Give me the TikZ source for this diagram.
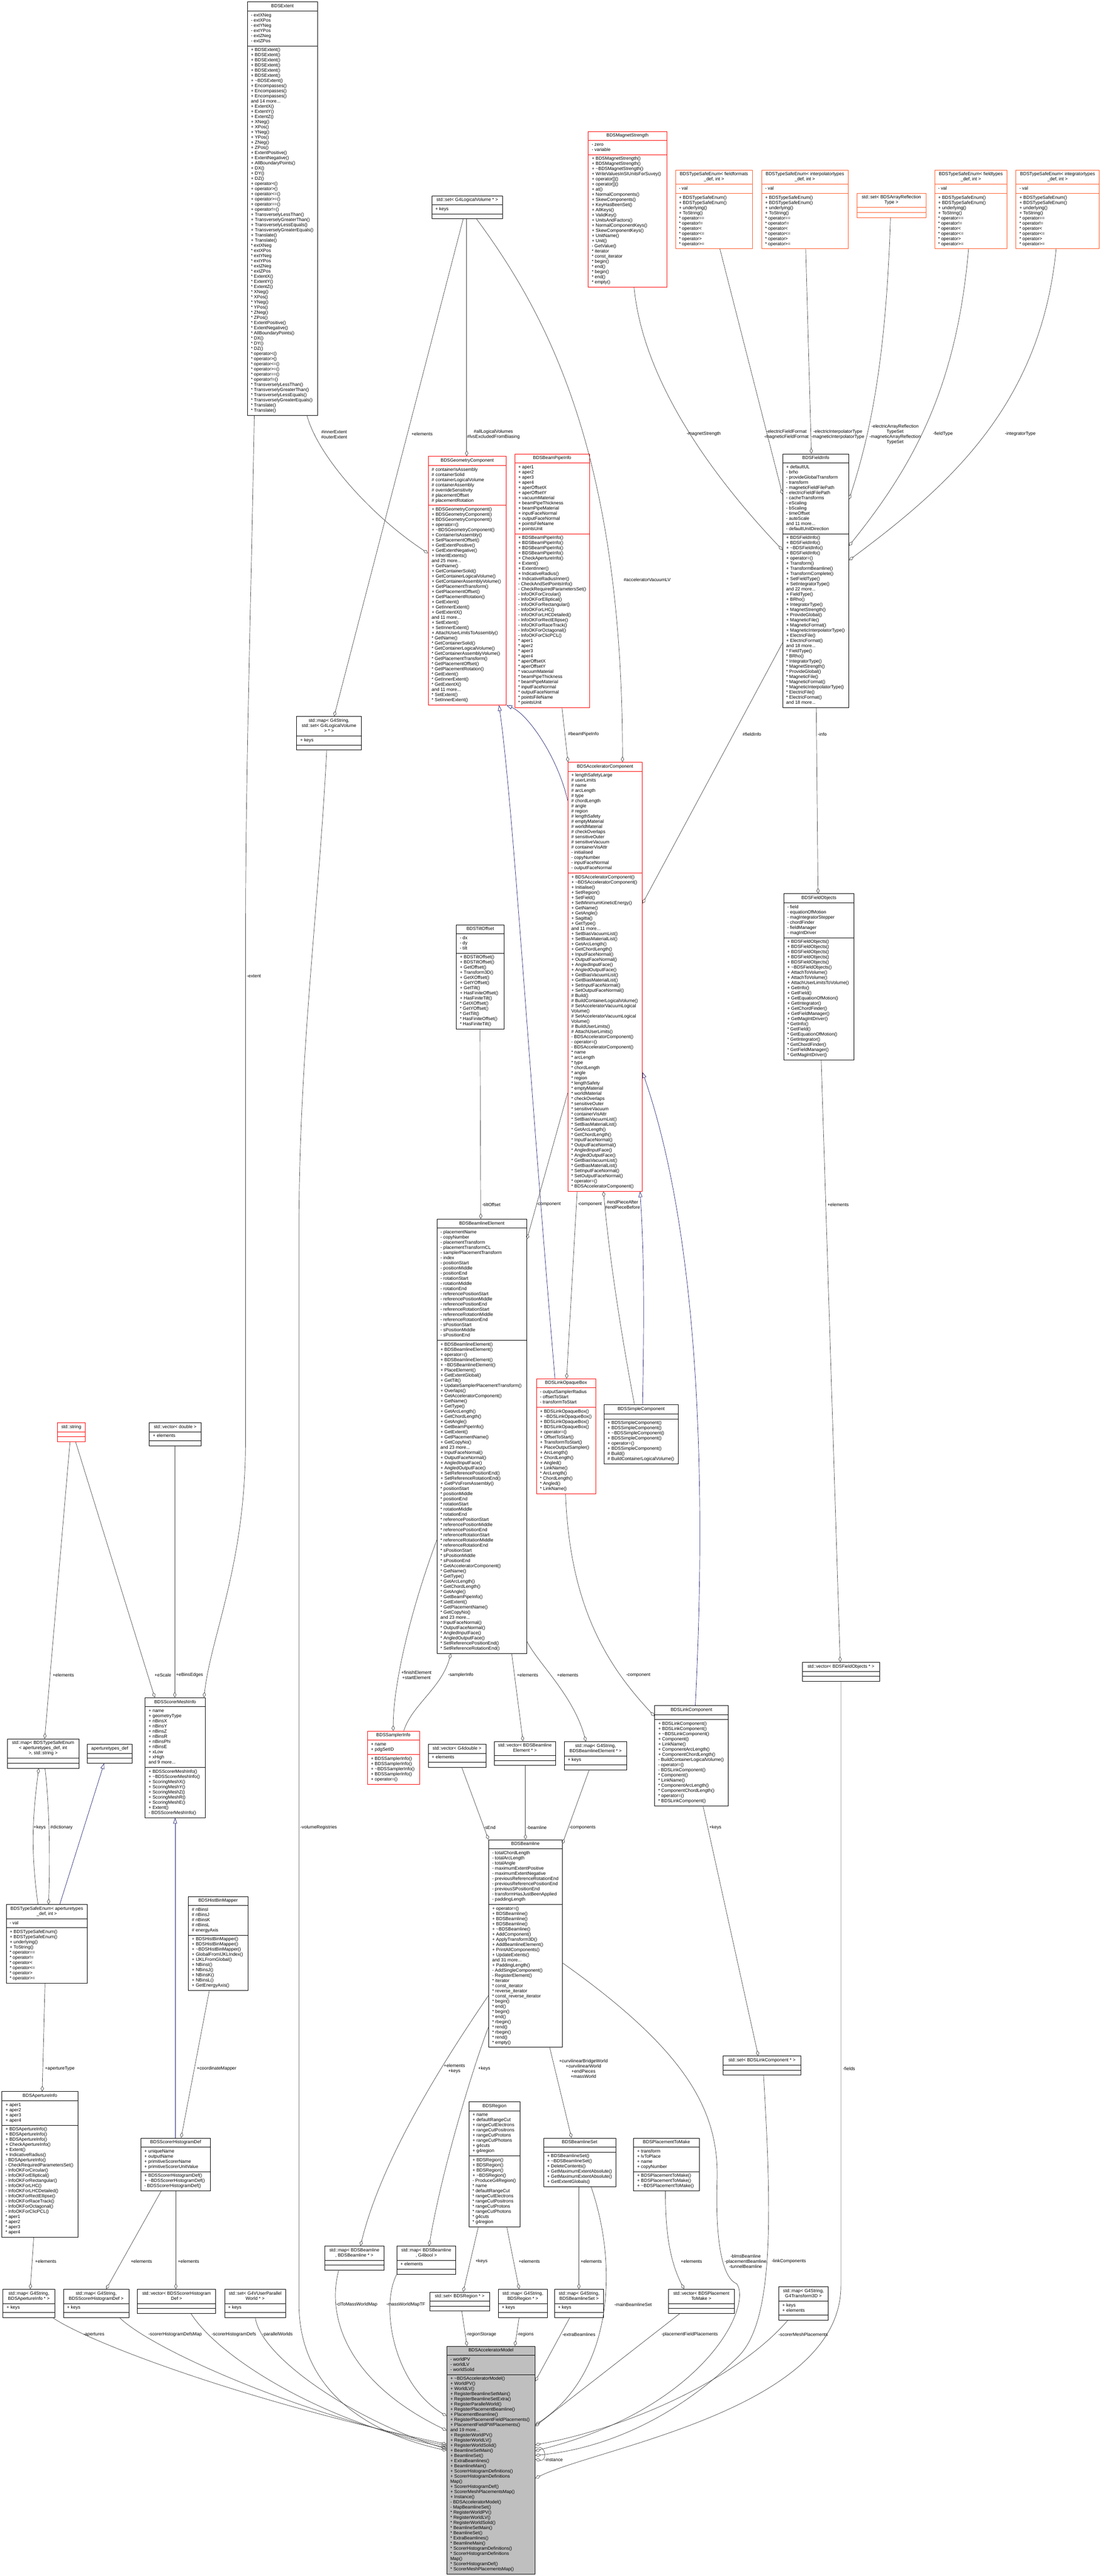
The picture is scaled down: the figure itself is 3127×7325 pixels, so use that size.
\documentclass[tikz,border=0pt]{standalone}
\usepackage{fontspec}
\setmainfont{Liberation Sans}
\usetikzlibrary{shapes.multipart,arrows.meta}

\definecolor{doxred}{RGB}{255,0,0}
\definecolor{doxorange}{RGB}{255,90,40}
\definecolor{doxgrey}{RGB}{191,191,191}
\definecolor{doxedge}{RGB}{64,64,64}
\definecolor{doxblue}{RGB}{25,25,112}

\newcommand{\clsfont}{\fontsize{13}{14.65}\selectfont}
\newcommand{\tld}{\textasciitilde}
\newcommand{\cls}[3]{\begin{tabular}{@{}c@{}}#1\end{tabular}\nodepart{two}\begin{tabular}{@{}l@{}}#2\end{tabular}\nodepart{three}\begin{tabular}{@{}l@{}}#3\end{tabular}}
\newcommand{\tsemeth}{+ BDSTypeSafeEnum()\\+ BDSTypeSafeEnum()\\+ underlying()\\+ ToString()\\{}* operator==\\{}* operator!=\\{}* operator<\\{}* operator<=\\{}* operator>\\{}* operator>=}

\begin{document}
\begin{tikzpicture}[x=1pt, y=-1pt,
    cls/.style={rectangle split, rectangle split parts=3, rectangle split part align={center,left,left},
      draw=black, line width=1.1pt, fill=white, anchor=north west, inner xsep=10pt, inner ysep=5pt, font=\clsfont},
    clsred/.style={cls, draw=doxred},
    clsorange/.style={cls, draw=doxorange},
    clsgrey/.style={cls, fill=doxgrey},
    assoc/.style={draw=doxedge, line width=1pt, -{Diamond[open, length=16pt, width=9pt]}},
    inherits/.style={draw=doxblue, line width=1pt, -{Triangle[open, length=16pt, width=11pt]}},
    elabel/.style={font=\clsfont, inner sep=0pt, align=center}]

  \fill[white] (0,0) rectangle (3127,7325);
  \useasboundingbox (0,0) rectangle (3127,7325);

  % Top row
  \node[cls, minimum width=199pt] (extent) at (703,5) {\cls{BDSExtent}
    {- extXNeg\\- extXPos\\- extYNeg\\- extYPos\\- extZNeg\\- extZPos}
    {+ BDSExtent()\\+ BDSExtent()\\+ BDSExtent()\\+ BDSExtent()\\+ BDSExtent()\\+ BDSExtent()\\+ \tld BDSExtent()\\+ Encompasses()\\+ Encompasses()\\+ Encompasses()\\and 14 more...\\+ ExtentX()\\+ ExtentY()\\+ ExtentZ()\\+ XNeg()\\+ XPos()\\+ YNeg()\\+ YPos()\\+ ZNeg()\\+ ZPos()\\+ ExtentPositive()\\+ ExtentNegative()\\+ AllBoundaryPoints()\\+ DX()\\+ DY()\\+ DZ()\\+ operator<()\\+ operator>()\\+ operator<=()\\+ operator>=()\\+ operator==()\\+ operator!=()\\+ TransverselyLessThan()\\+ TransverselyGreaterThan()\\+ TransverselyLessEquals()\\+ TransverselyGreaterEquals()\\+ Translate()\\+ Translate()\\{}* extXNeg\\{}* extXPos\\{}* extYNeg\\{}* extYPos\\{}* extZNeg\\{}* extZPos\\{}* ExtentX()\\{}* ExtentY()\\{}* ExtentZ()\\{}* XNeg()\\{}* XPos()\\{}* YNeg()\\{}* YPos()\\{}* ZNeg()\\{}* ZPos()\\{}* ExtentPositive()\\{}* ExtentNegative()\\{}* AllBoundaryPoints()\\{}* DX()\\{}* DY()\\{}* DZ()\\{}* operator<()\\{}* operator>()\\{}* operator<=()\\{}* operator>=()\\{}* operator==()\\{}* operator!=()\\{}* TransverselyLessThan()\\{}* TransverselyGreaterThan()\\{}* TransverselyLessEquals()\\{}* TransverselyGreaterEquals()\\{}* Translate()\\{}* Translate()}};
  \node[cls, minimum width=202pt] (lvSet) at (1227,556) {\cls{std::set< G4LogicalVolume * >}{+ keys}{}};
  \node[clsred, minimum width=223pt] (magstr) at (1672,373) {\cls{BDSMagnetStrength}
    {- zero\\- variable}
    {+ BDSMagnetStrength()\\+ BDSMagnetStrength()\\+ \tld BDSMagnetStrength()\\+ WriteValuesInSIUnitsForSuvey()\\+ operator[]()\\+ operator[]()\\+ at()\\+ NormalComponents()\\+ SkewComponents()\\+ KeyHasBeenSet()\\+ AllKeys()\\+ ValidKey()\\+ UnitsAndFactors()\\+ NormalComponentKeys()\\+ SkewComponentKeys()\\+ UnitName()\\+ Unit()\\- GetValue()\\{}* iterator\\{}* const\_iterator\\{}* begin()\\{}* end()\\{}* begin()\\{}* end()\\{}* empty()}};
  \node[clsorange, minimum width=219pt] (tseFormats) at (1920,483) {\cls{BDSTypeSafeEnum< fieldformats\\\_def, int >}{- val}{\tsemeth}};
  \node[clsorange, minimum width=246pt] (tseInterp) at (2165,483) {\cls{BDSTypeSafeEnum< interpolatortypes\\\_def, int >}{- val}{\tsemeth}};
  \node[clsorange, minimum width=196pt] (reflSet) at (2436,549) {\cls{std::set< BDSArrayReflection\\Type >}{}{}};
  \node[clsorange, minimum width=206pt] (tseFieldTypes) at (2657,483) {\cls{BDSTypeSafeEnum< fieldtypes\\\_def, int >}{- val}{\tsemeth}};
  \node[clsorange, minimum width=237pt] (tseIntegrators) at (2888,483) {\cls{BDSTypeSafeEnum< integratortypes\\\_def, int >}{- val}{\tsemeth}};

  % Geometry and fields
  \node[clsred, minimum width=222pt] (geomComp) at (1217,1297) {\cls{BDSGeometryComponent}
    {\# containerIsAssembly\\\# containerSolid\\\# containerLogicalVolume\\\# containerAssembly\\\# overrideSensitivity\\\# placementOffset\\\# placementRotation}
    {+ BDSGeometryComponent()\\+ BDSGeometryComponent()\\+ BDSGeometryComponent()\\+ operator=()\\+ \tld BDSGeometryComponent()\\+ ContainerIsAssembly()\\+ SetPlacementOffset()\\+ GetExtentPositive()\\+ GetExtentNegative()\\+ InheritExtents()\\and 25 more...\\+ GetName()\\+ GetContainerSolid()\\+ GetContainerLogicalVolume()\\+ GetContainerAssemblyVolume()\\+ GetPlacementTransform()\\+ GetPlacementOffset()\\+ GetPlacementRotation()\\+ GetExtent()\\+ GetInnerExtent()\\+ GetExtentX()\\and 11 more...\\+ SetExtent()\\+ SetInnerExtent()\\+ AttachUserLimitsToAssembly()\\{}* GetName()\\{}* GetContainerSolid()\\{}* GetContainerLogicalVolume()\\{}* GetContainerAssemblyVolume()\\{}* GetPlacementTransform()\\{}* GetPlacementOffset()\\{}* GetPlacementRotation()\\{}* GetExtent()\\{}* GetInnerExtent()\\{}* GetExtentX()\\and 11 more...\\{}* SetExtent()\\{}* SetInnerExtent()}};
  \node[clsred, minimum width=212pt] (bpInfo) at (1463,1290) {\cls{BDSBeamPipeInfo}
    {+ aper1\\+ aper2\\+ aper3\\+ aper4\\+ aperOffsetX\\+ aperOffsetY\\+ vacuumMaterial\\+ beamPipeThickness\\+ beamPipeMaterial\\+ inputFaceNormal\\+ outputFaceNormal\\+ pointsFileName\\+ pointsUnit}
    {+ BDSBeamPipeInfo()\\+ BDSBeamPipeInfo()\\+ BDSBeamPipeInfo()\\+ BDSBeamPipeInfo()\\+ CheckApertureInfo()\\+ Extent()\\+ ExtentInner()\\+ IndicativeRadius()\\+ IndicativeRadiusInner()\\- CheckAndSetPointsInfo()\\- CheckRequiredParametersSet()\\- InfoOKForCircular()\\- InfoOKForElliptical()\\- InfoOKForRectangular()\\- InfoOKForLHC()\\- InfoOKForLHCDetailed()\\- InfoOKForRectEllipse()\\- InfoOKForRaceTrack()\\- InfoOKForOctagonal()\\- InfoOKForClicPCL()\\{}* aper1\\{}* aper2\\{}* aper3\\{}* aper4\\{}* aperOffsetX\\{}* aperOffsetY\\{}* vacuumMaterial\\{}* beamPipeThickness\\{}* beamPipeMaterial\\{}* inputFaceNormal\\{}* outputFaceNormal\\{}* pointsFileName\\{}* pointsUnit}};
  \node[cls, minimum width=188pt] (fieldInfo) at (2225,1290) {\cls{BDSFieldInfo}
    {+ defaultUL\\- brho\\- provideGlobalTransform\\- transform\\- magneticFieldFilePath\\- electricFieldFilePath\\- cacheTransforms\\- eScaling\\- bScaling\\- timeOffset\\- autoScale\\and 11 more...\\- defaultUnitDirection}
    {+ BDSFieldInfo()\\+ BDSFieldInfo()\\+ \tld BDSFieldInfo()\\+ BDSFieldInfo()\\+ operator=()\\+ Transform()\\+ TransformBeamline()\\+ TransformComplete()\\+ SetFieldType()\\+ SetIntegratorType()\\and 22 more...\\+ FieldType()\\+ BRho()\\+ IntegratorType()\\+ MagnetStrength()\\+ ProvideGlobal()\\+ MagneticFile()\\+ MagneticFormat()\\+ MagneticInterpolatorType()\\+ ElectricFile()\\+ ElectricFormat()\\and 18 more...\\{}* FieldType()\\{}* BRho()\\{}* IntegratorType()\\{}* MagnetStrength()\\{}* ProvideGlobal()\\{}* MagneticFile()\\{}* MagneticFormat()\\{}* MagneticInterpolatorType()\\{}* ElectricFile()\\{}* ElectricFormat()\\and 18 more...}};
  \node[cls, minimum width=184pt] (lvMap) at (843,2037) {\cls{std::map< G4String,\\ std::set< G4LogicalVolume\\ * > * >}{+ keys}{}};
  \node[clsred, minimum width=212pt] (accComp) at (1614,2167) {\cls{BDSAcceleratorComponent}
    {+ lengthSafetyLarge\\\# userLimits\\\# name\\\# arcLength\\\# type\\\# chordLength\\\# angle\\\# region\\\# lengthSafety\\\# emptyMaterial\\\# worldMaterial\\\# checkOverlaps\\\# sensitiveOuter\\\# sensitiveVacuum\\\# containerVisAttr\\- initialised\\- copyNumber\\- inputFaceNormal\\- outputFaceNormal}
    {+ BDSAcceleratorComponent()\\+ \tld BDSAcceleratorComponent()\\+ Initialise()\\+ SetRegion()\\+ SetField()\\+ SetMinimumKineticEnergy()\\+ GetName()\\+ GetAngle()\\+ Sagitta()\\+ GetType()\\and 11 more...\\+ SetBiasVacuumList()\\+ SetBiasMaterialList()\\+ GetArcLength()\\+ GetChordLength()\\+ InputFaceNormal()\\+ OutputFaceNormal()\\+ AngledInputFace()\\+ AngledOutputFace()\\+ GetBiasVacuumList()\\+ GetBiasMaterialList()\\+ SetInputFaceNormal()\\+ SetOutputFaceNormal()\\\# Build()\\\# BuildContainerLogicalVolume()\\\# SetAcceleratorVacuumLogical\\Volume()\\\# SetAcceleratorVacuumLogical\\Volume()\\\# BuildUserLimits()\\\# AttachUserLimits()\\- BDSAcceleratorComponent()\\- operator=()\\- BDSAcceleratorComponent()\\{}* name\\{}* arcLength\\{}* type\\{}* chordLength\\{}* angle\\{}* region\\{}* lengthSafety\\{}* emptyMaterial\\{}* worldMaterial\\{}* checkOverlaps\\{}* sensitiveOuter\\{}* sensitiveVacuum\\{}* containerVisAttr\\{}* SetBiasVacuumList()\\{}* SetBiasMaterialList()\\{}* GetArcLength()\\{}* GetChordLength()\\{}* InputFaceNormal()\\{}* OutputFaceNormal()\\{}* AngledInputFace()\\{}* AngledOutputFace()\\{}* GetBiasVacuumList()\\{}* GetBiasMaterialList()\\{}* SetInputFaceNormal()\\{}* SetOutputFaceNormal()\\{}* operator=()\\{}* BDSAcceleratorComponent()}};
  \node[cls, minimum width=200pt] (fieldObj) at (2228,2541) {\cls{BDSFieldObjects}
    {- field\\- equationOfMotion\\- magIntegratorStepper\\- chordFinder\\- fieldManager\\- magIntDriver}
    {+ BDSFieldObjects()\\+ BDSFieldObjects()\\+ BDSFieldObjects()\\+ BDSFieldObjects()\\+ BDSFieldObjects()\\+ \tld BDSFieldObjects()\\+ AttachToVolume()\\+ AttachToVolume()\\+ AttachUserLimitsToVolume()\\+ GetInfo()\\+ GetField()\\+ GetEquationOfMotion()\\+ GetIntegrator()\\+ GetChordFinder()\\+ GetFieldManager()\\+ GetMagIntDriver()\\{}* GetInfo()\\{}* GetField()\\{}* GetEquationOfMotion()\\{}* GetIntegrator()\\{}* GetChordFinder()\\{}* GetFieldManager()\\{}* GetMagIntDriver()}};
  \node[cls, minimum width=136pt] (tilt) at (1297,2629) {\cls{BDSTiltOffset}
    {- dx\\- dy\\- tilt}
    {+ BDSTiltOffset()\\+ BDSTiltOffset()\\+ GetOffset()\\+ Transform3D()\\+ GetXOffset()\\+ GetYOffset()\\+ GetTilt()\\+ HasFiniteOffset()\\+ HasFiniteTilt()\\{}* GetXOffset()\\{}* GetYOffset()\\{}* GetTilt()\\{}* HasFiniteOffset()\\{}* HasFiniteTilt()}};

  % Beamline elements
  \node[cls, minimum width=255pt] (blElement) at (1242,3466) {\cls{BDSBeamlineElement}
    {- placementName\\- copyNumber\\- placementTransform\\- placementTransformCL\\- samplerPlacementTransform\\- index\\- positionStart\\- positionMiddle\\- positionEnd\\- rotationStart\\- rotationMiddle\\- rotationEnd\\- referencePositionStart\\- referencePositionMiddle\\- referencePositionEnd\\- referenceRotationStart\\- referenceRotationMiddle\\- referenceRotationEnd\\- sPositionStart\\- sPositionMiddle\\- sPositionEnd}
    {+ BDSBeamlineElement()\\+ BDSBeamlineElement()\\+ operator=()\\+ BDSBeamlineElement()\\+ \tld BDSBeamlineElement()\\+ PlaceElement()\\+ GetExtentGlobal()\\+ GetTilt()\\+ UpdateSamplerPlacementTransform()\\+ Overlaps()\\+ GetAcceleratorComponent()\\+ GetName()\\+ GetType()\\+ GetArcLength()\\+ GetChordLength()\\+ GetAngle()\\+ GetBeamPipeInfo()\\+ GetExtent()\\+ GetPlacementName()\\+ GetCopyNo()\\and 23 more...\\+ InputFaceNormal()\\+ OutputFaceNormal()\\+ AngledInputFace()\\+ AngledOutputFace()\\+ SetReferencePositionEnd()\\+ SetReferenceRotationEnd()\\+ GetPVsFromAssembly()\\{}* positionStart\\{}* positionMiddle\\{}* positionEnd\\{}* rotationStart\\{}* rotationMiddle\\{}* rotationEnd\\{}* referencePositionStart\\{}* referencePositionMiddle\\{}* referencePositionEnd\\{}* referenceRotationStart\\{}* referenceRotationMiddle\\{}* referenceRotationEnd\\{}* sPositionStart\\{}* sPositionMiddle\\{}* sPositionEnd\\{}* GetAcceleratorComponent()\\{}* GetName()\\{}* GetType()\\{}* GetArcLength()\\{}* GetChordLength()\\{}* GetAngle()\\{}* GetBeamPipeInfo()\\{}* GetExtent()\\{}* GetPlacementName()\\{}* GetCopyNo()\\and 23 more...\\{}* InputFaceNormal()\\{}* OutputFaceNormal()\\{}* AngledInputFace()\\{}* AngledOutputFace()\\{}* SetReferencePositionEnd()\\{}* SetReferenceRotationEnd()}};
  \node[clsred, minimum width=168pt] (linkBox) at (1525,3920) {\cls{BDSLinkOpaqueBox}
    {- outputSamplerRadius\\- offsetToStart\\- transformToStart}
    {+ BDSLinkOpaqueBox()\\+ \tld BDSLinkOpaqueBox()\\+ BDSLinkOpaqueBox()\\+ BDSLinkOpaqueBox()\\+ operator=()\\+ OffsetToStart()\\+ TransformToStart()\\+ PlaceOutputSampler()\\+ ArcLength()\\+ ChordLength()\\+ Angled()\\+ LinkName()\\{}* ArcLength()\\{}* ChordLength()\\{}* Angled()\\{}* LinkName()}};
  \node[cls, minimum width=211pt] (simpleComp) at (1717,3994) {\cls{BDSSimpleComponent}{}
    {+ BDSSimpleComponent()\\+ BDSSimpleComponent()\\+ \tld BDSSimpleComponent()\\+ BDSSimpleComponent()\\+ operator=()\\+ BDSSimpleComponent()\\\# Build()\\\# BuildContainerLogicalVolume()}};
  \node[clsred, minimum width=80pt] (stdString) at (162,4045) {\cls{std::string}{}{}};
  \node[cls, minimum width=147pt] (dblVec) at (424,4045) {\cls{std::vector< double >}{+ elements}{}};
  \node[cls, minimum width=219pt] (fieldVec) at (2281,4726) {\cls{std::vector< BDSFieldObjects * >}{}{}};
  \node[cls, minimum width=171pt] (meshInfo) at (412,4827) {\cls{BDSScorerMeshInfo}
    {+ name\\+ geometryType\\+ nBinsX\\+ nBinsY\\+ nBinsZ\\+ nBinsR\\+ nBinsPhi\\+ nBinsE\\+ xLow\\+ xHigh\\and 9 more...}
    {+ BDSScorerMeshInfo()\\+ \tld BDSScorerMeshInfo()\\+ ScoringMeshX()\\+ ScoringMeshY()\\+ ScoringMeshZ()\\+ ScoringMeshR()\\+ ScoringMeshE()\\+ Extent()\\- BDSScorerMeshInfo()}};
  \node[cls, minimum width=209pt] (linkComp) at (1861,4849) {\cls{BDSLinkComponent}{}
    {+ BDSLinkComponent()\\+ BDSLinkComponent()\\+ \tld BDSLinkComponent()\\+ Component()\\+ LinkName()\\+ ComponentArcLength()\\+ ComponentChordLength()\\- BuildContainerLogicalVolume()\\- operator=()\\- BDSLinkComponent()\\{}* Component()\\{}* LinkName()\\{}* ComponentArcLength()\\{}* ComponentChordLength()\\{}* operator=()\\{}* BDSLinkComponent()}};
  \node[clsred, minimum width=148pt] (samplerInfo) at (1044,4922) {\cls{BDSSamplerInfo}
    {+ name\\+ pdgSetID}
    {+ BDSSamplerInfo()\\+ BDSSamplerInfo()\\+ \tld BDSSamplerInfo()\\+ BDSSamplerInfo()\\+ operator=()}};
  \node[cls, minimum width=164pt] (g4dblVec) at (1217,4959) {\cls{std::vector< G4double >}{+ elements}{}};
  \node[cls, minimum width=174pt] (elemVec) at (1405,4951) {\cls{std::vector< BDSBeamline\\Element * >}{}{}};
  \node[cls, minimum width=178pt] (elemMap) at (1604,4952) {\cls{std::map< G4String,\\ BDSBeamlineElement * >}{+ keys}{}};
  \node[cls, minimum width=204pt] (apMap) at (20,4944) {\cls{std::map< BDSTypeSafeEnum\\< aperturetypes\_def, int\\ >, std::string >}{}{}};
  \node[cls, minimum width=127pt] (apDef) at (248,4959) {\cls{aperturetypes\_def}{}{}};

  % Beamline and apertures
  \node[cls, minimum width=207pt] (blBeamline) at (1389,5231) {\cls{BDSBeamline}
    {- totalChordLength\\- totalArcLength\\- totalAngle\\- maximumExtentPositive\\- maximumExtentNegative\\- previousReferenceRotationEnd\\- previousReferencePositionEnd\\- previousSPositionEnd\\- transformHasJustBeenApplied\\- paddingLength}
    {+ operator=()\\+ BDSBeamline()\\+ BDSBeamline()\\+ BDSBeamline()\\+ \tld BDSBeamline()\\+ AddComponent()\\+ ApplyTransform3D()\\+ AddBeamlineElement()\\+ PrintAllComponents()\\+ UpdateExtents()\\and 31 more...\\+ PaddingLength()\\- AddSingleComponent()\\- RegisterElement()\\{}* iterator\\{}* const\_iterator\\{}* reverse\_iterator\\{}* const\_reverse\_iterator\\{}* begin()\\{}* end()\\{}* begin()\\{}* end()\\{}* rbegin()\\{}* rend()\\{}* rbegin()\\{}* rend()\\{}* empty()}};
  \node[cls, minimum width=231pt] (tseAperture) at (17,5415) {\cls{BDSTypeSafeEnum< aperturetypes\\\_def, int >}{- val}{\tsemeth}};
  \node[cls, minimum width=169pt] (binMapper) at (535,5392) {\cls{BDSHistBinMapper}
    {\# nBinsI\\\# nBinsJ\\\# nBinsK\\\# nBinsL\\\# energyAxis}
    {+ BDSHistBinMapper()\\+ BDSHistBinMapper()\\+ \tld BDSHistBinMapper()\\+ GlobalFromIJKLIndex()\\+ IJKLFromGlobal()\\+ NBinsI()\\+ NBinsJ()\\+ NBinsK()\\+ NBinsL()\\+ GetEnergyAxis()}};
  \node[cls, minimum width=220pt] (linkSet) at (2056,5846) {\cls{std::set< BDSLinkComponent * >}{}{}};
  \node[cls, minimum width=216pt] (apInfo) at (5,5947) {\cls{BDSApertureInfo}
    {+ aper1\\+ aper2\\+ aper3\\+ aper4}
    {+ BDSApertureInfo()\\+ BDSApertureInfo()\\+ BDSApertureInfo()\\+ CheckApertureInfo()\\+ Extent()\\+ IndicativeRadius()\\- BDSApertureInfo()\\- CheckRequiredParametersSet()\\- InfoOKForCircular()\\- InfoOKForElliptical()\\- InfoOKForRectangular()\\- InfoOKForLHC()\\- InfoOKForLHCDetailed()\\- InfoOKForRectEllipse()\\- InfoOKForRaceTrack()\\- InfoOKForOctagonal()\\- InfoOKForClicPCL()\\{}* aper1\\{}* aper2\\{}* aper3\\{}* aper4}};
  \node[cls, minimum width=198pt] (histDef) at (400,6079) {\cls{BDSScorerHistogramDef}
    {+ uniqueName\\+ outputName\\+ primitiveScorerName\\+ primitiveScorerUnitValue}
    {+ BDSScorerHistogramDef()\\+ \tld BDSScorerHistogramDef()\\- BDSScorerHistogramDef()}};
  \node[cls, minimum width=145pt] (region) at (1333,5976) {\cls{BDSRegion}
    {+ name\\+ defaultRangeCut\\+ rangeCutElectrons\\+ rangeCutPositrons\\+ rangeCutProtons\\+ rangeCutPhotons\\+ g4cuts\\+ g4region}
    {+ BDSRegion()\\+ BDSRegion()\\+ BDSRegion()\\+ \tld BDSRegion()\\- ProduceG4Region()\\{}* name\\{}* defaultRangeCut\\{}* rangeCutElectrons\\{}* rangeCutPositrons\\{}* rangeCutProtons\\{}* rangeCutPhotons\\{}* g4cuts\\{}* g4region}};
  \node[cls, minimum width=205pt] (blSet) at (1545,6079) {\cls{BDSBeamlineSet}{}
    {+ BDSBeamlineSet()\\+ \tld BDSBeamlineSet()\\+ DeleteContents()\\+ GetMaximumExtentAbsolute()\\+ GetMaximumExtentAbsolute()\\+ GetExtentGlobals()}};
  \node[cls, minimum width=187pt] (placement) at (1801,6079) {\cls{BDSPlacementToMake}
    {+ transform\\+ lvToPlace\\+ name\\+ copyNumber}
    {+ BDSPlacementToMake()\\+ BDSPlacementToMake()\\+ \tld BDSPlacementToMake()}};

  % Containers of the model
  \node[cls, minimum width=147pt] (apInfoMap) at (8,6509) {\cls{std::map< G4String,\\ BDSApertureInfo * >}{+ keys}{}};
  \node[cls, minimum width=186pt] (histDefMap) at (180,6509) {\cls{std::map< G4String,\\ BDSScorerHistogramDef >}{+ keys}{}};
  \node[cls, minimum width=223pt] (histDefVec) at (390,6509) {\cls{std::vector< BDSScorerHistogram\\Def >}{}{}};
  \node[cls, minimum width=174pt] (pwSet) at (638,6509) {\cls{std::set< G4VUserParallel\\World * >}{+ keys}{}};
  \node[cls, minimum width=168pt] (clMap) at (923,6386) {\cls{std::map< BDSBeamline\\ *, BDSBeamline * >}{}{}};
  \node[cls, minimum width=167pt] (mwMap) at (1128,6386) {\cls{std::map< BDSBeamline\\ *, G4bool >}{+ elements}{}};
  \node[cls, minimum width=169pt] (regionSet) at (1222,6517) {\cls{std::set< BDSRegion * >}{}{}};
  \node[cls, minimum width=140pt] (regionMap) at (1416,6509) {\cls{std::map< G4String,\\ BDSRegion * >}{+ keys}{}};
  \node[cls, minimum width=140pt] (blSetMap) at (1576,6509) {\cls{std::map< G4String,\\ BDSBeamlineSet >}{+ keys}{}};
  \node[cls, minimum width=187pt] (placeVec) at (1900,6509) {\cls{std::vector< BDSPlacement\\ToMake >}{}{}};
  \node[cls, minimum width=140pt] (trfMap) at (2214,6502) {\cls{std::map< G4String,\\ G4Transform3D >}{+ keys\\+ elements}{}};
  \node[clsgrey, minimum width=251pt] (accModel) at (1270,6671) {\cls{BDSAcceleratorModel}
    {- worldPV\\- worldLV\\- worldSolid}
    {+ \tld BDSAcceleratorModel()\\+ WorldPV()\\+ WorldLV()\\+ RegisterBeamlineSetMain()\\+ RegisterBeamlineSetExtra()\\+ RegisterParallelWorld()\\+ RegisterPlacementBeamline()\\+ PlacementBeamline()\\+ RegisterPlacementFieldPlacements()\\+ PlacementFieldPWPlacements()\\and 19 more...\\+ RegisterWorldPV()\\+ RegisterWorldLV()\\+ RegisterWorldSolid()\\+ BeamlineSetMain()\\+ BeamlineSet()\\+ ExtraBeamlines()\\+ BeamlineMain()\\+ ScorerHistogramDefinitions()\\+ ScorerHistogramDefinitions\\Map()\\+ ScorerHistogramDef()\\+ ScorerMeshPlacementsMap()\\+ Instance()\\- BDSAcceleratorModel()\\- MapBeamlineSet()\\{}* RegisterWorldPV()\\{}* RegisterWorldLV()\\{}* RegisterWorldSolid()\\{}* BeamlineSetMain()\\{}* BeamlineSet()\\{}* ExtraBeamlines()\\{}* BeamlineMain()\\{}* ScorerHistogramDefinitions()\\{}* ScorerHistogramDefinitions\\Map()\\{}* ScorerHistogramDef()\\{}* ScorerMeshPlacementsMap()}};

  % Inheritance
  \draw[inherits] (accComp.west |- 0,2276) .. controls (1585,2150) and (1500,2030) .. (geomComp.south east);
  \draw[inherits] (linkBox.north -| 1578,0) .. controls (1500,3000) and (1460,2300) .. (geomComp.south -| 1419,0);
  \draw[inherits] (simpleComp.north -| 1827,0) .. controls (1833,3700) and (1830,3550) .. (accComp.south -| 1820,0);
  \draw[inherits] (linkComp.north -| 1977,0) .. controls (2005,4300) and (2000,3550) .. (accComp.east |- 0,3049);
  \draw[inherits] (tseAperture.north -| 170,0) -- (apDef.south -| 296,0);
  \draw[inherits] (histDef.north -| 498,0) -- (meshInfo.south -| 498,0);

  % Members
  \draw[assoc] (extent.south -| 873,0) .. controls (905,1300) and (1060,1470) .. (geomComp.west |- 0,1573);
  \draw[assoc] (extent.south -| 723,0) .. controls (712,1800) and (698,2200) .. (698,2700) -- (698,4100) .. controls (698,4450) and (600,4650) .. (meshInfo.north -| 580,0);
  \draw[assoc] (lvMap.south -| 929,0) .. controls (905,2600) and (850,3000) .. (850,3500) -- (850,6550) .. controls (850,6800) and (1050,6920) .. (accModel.west |- 0,6968);
  \draw[assoc] (lvSet.south -| 1317,0) -- (lvMap.north -| 950,0);
  \draw[assoc] (lvSet.south -| 1327,0) -- (geomComp.north -| 1327,0);
  \draw[assoc] (lvSet.south -| 1355,0) .. controls (1560,900) and (1770,1300) .. (accComp.north -| 1770,0);
  \draw[assoc] (magstr.south -| 1803,0) .. controls (1830,1100) and (2050,1380) .. (fieldInfo.west |- 0,1564);
  \draw[assoc] (tseFormats.south -| 2047,0) -- (fieldInfo.west |- 0,1406);
  \draw[assoc] (tseInterp.south -| 2291,0) -- (fieldInfo.north -| 2307,0);
  \draw[assoc] (reflSet.south -| 2532,0) .. controls (2520,1000) and (2480,1220) .. (fieldInfo.east |- 0,1420);
  \draw[assoc] (tseFieldTypes.south -| 2754,0) .. controls (2720,1100) and (2600,1320) .. (fieldInfo.east |- 0,1552);
  \draw[assoc] (tseIntegrators.south -| 3003,0) .. controls (2960,1150) and (2700,1380) .. (fieldInfo.east |- 0,1593);
  \draw[assoc] (fieldInfo.west |- 0,1828) -- (accComp.east |- 0,2569);
  \draw[assoc] (fieldInfo.south -| 2321,0) -- (fieldObj.north -| 2326,0);
  \draw[assoc] (bpInfo.south -| 1598,0) -- (accComp.north -| 1615,0);
  \draw[assoc] (accComp.west |- 0,3108) -- (blElement.east |- 0,3524);
  \draw[assoc] (accComp.south -| 1641,0) -- (linkBox.north -| 1611,0);
  \draw[assoc] (simpleComp.north -| 1804,0) .. controls (1760,3760) and (1730,3550) .. (accComp.south -| 1716,0);
  \draw[assoc] (linkBox.south -| 1608,0) .. controls (1620,4560) and (1720,4730) .. (linkComp.west |- 0,4880);
  \draw[assoc] (blElement.south -| 1455,0) -- (elemVec.north -| 1487,0);
  \draw[assoc] (blElement.east |- 0,4667) .. controls (1530,4730) and (1630,4820) .. (elemMap.north -| 1666,0);
  \draw[assoc] (blElement.west |- 0,4379) .. controls (1160,4600) and (1118,4800) .. (samplerInfo.north -| 1118,0);
  \draw[assoc] (samplerInfo.north -| 1148,0) .. controls (1170,4850) and (1255,4800) .. (blElement.south -| 1282,0);
  \draw[assoc] (tilt.south -| 1365,0) -- (blElement.north -| 1367,0);
  \draw[assoc] (stdString.south -| 199,0) -- (apMap.north -| 127,0);
  \draw[assoc] (stdString.south -| 215,0) -- (meshInfo.north -| 440,0);
  \draw[assoc] (dblVec.south -| 497,0) -- (meshInfo.north -| 497,0);
  \draw[assoc] (tseAperture.north -| 108,0) .. controls (85,5250) and (95,5150) .. (apMap.south -| 110,0);
  \draw[assoc] (apMap.south -| 128,0) .. controls (142,5150) and (142,5300) .. (tseAperture.north -| 138,0);
  \draw[assoc] (tseAperture.south -| 128,0) -- (apInfo.north -| 120,0);
  \draw[assoc] (binMapper.south -| 595,0) -- (histDef.north -| 515,0);
  \draw[assoc] (apInfo.south -| 96,0) -- (apInfoMap.north -| 86,0);
  \draw[assoc] (histDef.south -| 458,0) -- (histDefMap.north -| 302,0);
  \draw[assoc] (histDef.south -| 500,0) -- (histDefVec.north -| 500,0);
  \draw[assoc] (region.south -| 1360,0) -- (regionSet.north -| 1317,0);
  \draw[assoc] (region.south -| 1441,0) -- (regionMap.north -| 1476,0);
  \draw[assoc] (blBeamline.west |- 0,5674) .. controls (1290,5820) and (1090,6120) .. (clMap.north -| 1025,0);
  \draw[assoc] (blBeamline.west |- 0,5764) .. controls (1355,5850) and (1260,6150) .. (mwMap.north -| 1220,0);
  \draw[assoc] (g4dblVec.south -| 1313,0) -- (blBeamline.north west);
  \draw[assoc] (elemVec.south -| 1494,0) -- (blBeamline.north -| 1494,0);
  \draw[assoc] (elemMap.south -| 1675,0) -- (blBeamline.east |- 0,5244);
  \draw[assoc] (blBeamline.south -| 1563,0) -- (blSet.north -| 1625,0);
  \draw[assoc] (fieldObj.south -| 2335,0) -- (fieldVec.north -| 2389,0);
  \draw[assoc] (linkComp.south -| 1999,0) -- (linkSet.north -| 2156,0);
  \draw[assoc] (blSet.south -| 1646,0) -- (blSetMap.north -| 1646,0);
  \draw[assoc] (placement.south -| 1892,0) .. controls (1892,6350) and (1905,6430) .. (placeVec.north -| 1945,0);

  % Members of the model
  \draw[assoc] (blBeamline.east |- 0,5581) .. controls (1950,5830) and (2045,6000) .. (2039,6200) .. controls (2033,6400) and (2060,6480) .. (2095,6494) .. controls (2140,6560) and (2000,6850) .. (accModel.east |- 0,6969);
  \draw[assoc] (linkSet.south -| 2171,0) .. controls (2195,6300) and (2200,6600) .. (2100,6700) .. controls (1950,6850) and (1750,6960) .. (accModel.east |- 0,6982);
  \draw[assoc] (fieldVec.south -| 2391,0) -- (2391,6500) .. controls (2391,6850) and (1700,6960) .. (accModel.east |- 0,7047);
  \draw[assoc] (blSet.south -| 1681,0) .. controls (1760,6450) and (1740,6750) .. (accModel.east |- 0,6895);
  \draw[assoc] (blSetMap.south -| 1620,0) -- (accModel.east |- 0,6771);
  \draw[assoc] (placeVec.south -| 1933,0) -- (accModel.east |- 0,6899);
  \draw[assoc] (trfMap.south -| 2240,0) .. controls (2100,6760) and (1800,6900) .. (accModel.east |- 0,6952);
  \draw[assoc] (accModel.east |- 0,6960) .. controls (1555,6950) and (1555,7000) .. (accModel.east |- 0,6993);
  \draw[assoc] (apInfoMap.south -| 150,0) .. controls (250,6660) and (700,6830) .. (accModel.west |- 0,6950);
  \draw[assoc] (histDefMap.south -| 340,0) .. controls (420,6670) and (800,6850) .. (accModel.west |- 0,6955);
  \draw[assoc] (histDefVec.south -| 543,0) .. controls (620,6700) and (900,6880) .. (accModel.west |- 0,6960);
  \draw[assoc] (pwSet.south -| 726,0) .. controls (740,6700) and (1000,6880) .. (accModel.west |- 0,6964);
  \draw[assoc] (clMap.south -| 963,0) .. controls (925,6600) and (1000,6780) .. (accModel.west |- 0,6911);
  \draw[assoc] (mwMap.south -| 1128,0) .. controls (1080,6560) and (1120,6780) .. (accModel.west |- 0,6870);
  \draw[assoc] (regionSet.south -| 1313,0) -- (accModel.north -| 1328,0);
  \draw[assoc] (regionMap.south -| 1476,0) -- (accModel.north -| 1464,0);

  % Labels
  \node[elabel] (lInnerExtent) at (950,1235) {\#innerExtent\\\#outerExtent};
  \node[elabel] (lExtent) at (722,2775) {-extent};
  \node[elabel] (lVolReg) at (906,5197) {-volumeRegistries};
  \node[elabel] (lLvElem) at (1200,1234) {+elements};
  \node[elabel] (lAllLV) at (1403,1235) {\#allLogicalVolumes\\\#lvsExcludedFromBiasing};
  \node[elabel] (lVacLV) at (1840,1649) {\#acceleratorVacuumLV};
  \node[elabel] (lMagStr) at (2001,1234) {-magnetStrength};
  \node[elabel] (lFormat) at (2236,1235) {-electricFieldFormat\\-magneticFieldFormat};
  \node[elabel] (lInterp) at (2382,1235) {-electricInterpolatorType\\-magneticInterpolatorType};
  \node[elabel] (lRefl) at (2545,1235) {-electricArrayReflection\\TypeSet\\-magneticArrayReflection\\TypeSet};
  \node[elabel] (lFieldType) at (2681,1234) {-fieldType};
  \node[elabel] (lIntegrator) at (2901,1234) {-integratorType};
  \node[elabel] (lFieldInfo) at (2138,2088) {\#fieldInfo};
  \node[elabel] (lInfo) at (2338,2088) {-info};
  \node[elabel] (lBeamPipe) at (1659,2088) {\#beamPipeInfo};
  \node[elabel] (lCompElem) at (1560,3425) {-component};
  \node[elabel] (lCompBox) at (1677,3425) {-component};
  \node[elabel] (lEndPiece) at (1770,3425) {\#endPieceAfter\\\#endPieceBefore};
  \node[elabel] (lFieldElem) at (2383,3425) {+elements};
  \node[elabel] (lTilt) at (1397,3425) {-tiltOffset};
  \node[elabel] (lStrElem) at (180,4763) {+elements};
  \node[elabel] (lEScale) at (463,4763) {+eScale};
  \node[elabel] (lEBins) at (539,4763) {+eBinsEdges};
  \node[elabel] (lStartFinish) at (1184,4763) {+finishElement\\+startElement};
  \node[elabel] (lSampler) at (1310,4763) {-samplerInfo};
  \node[elabel] (lElemVec) at (1500,4763) {+elements};
  \node[elabel] (lElemMap) at (1614,4763) {+elements};
  \node[elabel] (lCompLink) at (1815,4763) {-component};
  \node[elabel] (lApKeys) at (113,5197) {+keys};
  \node[elabel] (lDict) at (175,5197) {\#dictionary};
  \node[elabel] (lSEnd) at (1392,5197) {-sEnd};
  \node[elabel] (lBeamline) at (1526,5197) {-beamline};
  \node[elabel] (lComponents) at (1656,5197) {-components};
  \node[elabel] (lLinkKeys) at (2034,5197) {+keys};
  \node[elabel] (lApType) at (170,5882) {+apertureType};
  \node[elabel] (lMapper) at (616,5882) {+coordinateMapper};
  \node[elabel] (lClElem) at (1292,5882) {+elements\\+keys};
  \node[elabel] (lMwKeys) at (1377,5882) {+keys};
  \node[elabel] (lWorlds) at (1659,5882) {+curvilinearBridgeWorld\\+curvilinearWorld\\+endPieces\\+massWorld};
  \node[elabel] (lFields) at (2414,5882) {-fields};
  \node[elabel] (lApElem) at (130,6430) {+elements};
  \node[elabel] (lHistMapElem) at (402,6430) {+elements};
  \node[elabel] (lHistVecElem) at (536,6430) {+elements};
  \node[elabel] (lRegKeys) at (1369,6430) {+keys};
  \node[elabel] (lRegElem) at (1505,6430) {+elements};
  \node[elabel] (lSetElem) at (1681,6430) {+elements};
  \node[elabel] (lPlaceElem) at (1966,6430) {+elements};
  \node[elabel] (lBlms) at (2120,6430) {-blmsBeamline\\-placementBeamline\\-tunnelBeamline};
  \node[elabel] (lLinkComps) at (2243,6430) {-linkComponents};
  \node[elabel] (lClMass) at (1014,6553) {-clToMassWorldMap};
  \node[elabel] (lMassTF) at (1154,6553) {-massWorldMapTF};
  \node[elabel] (lMainSet) at (1800,6553) {-mainBeamlineSet};
  \node[elabel] (lApertures) at (267,6638) {-apertures};
  \node[elabel] (lHistMap) at (498,6638) {-scorerHistogramDefsMap};
  \node[elabel] (lHistDefs) at (665,6638) {-scorerHistogramDefs};
  \node[elabel] (lWorldsPar) at (789,6638) {-parallelWorlds};
  \node[elabel] (lRegStore) at (1368,6638) {-regionStorage};
  \node[elabel] (lRegions) at (1494,6638) {-regions};
  \node[elabel] (lExtra) at (1646,6638) {-extraBeamlines};
  \node[elabel] (lFieldPl) at (1961,6638) {-placementFieldPlacements};
  \node[elabel] (lMeshPl) at (2284,6638) {-scorerMeshPlacements};
  \node[elabel] (lInstance) at (1574,6994) {-instance};
\end{tikzpicture}
\end{document}
